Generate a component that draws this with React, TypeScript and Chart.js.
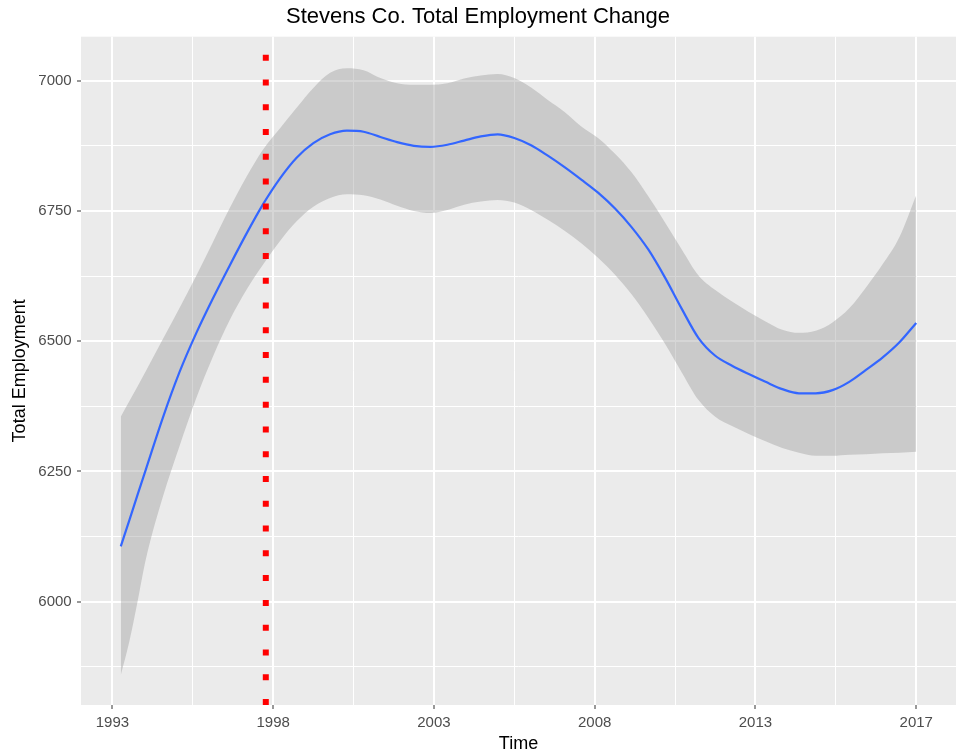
import React, { useEffect, useRef } from "react";
import { Chart, registerables } from "chart.js";

Chart.register(...registerables);

const TITLE = "Stevens Co. Total Employment Change";
const X_TITLE = "Time";
const Y_TITLE = "Total Employment";

const YEARS = [
  1993.25, 1993.5, 1993.75, 1994, 1994.5, 1995, 1995.5, 1996, 1996.5, 1997,
  1997.5, 1998, 1998.5, 1999, 1999.5, 2000, 2000.5, 2001, 2001.5, 2002,
  2002.5, 2003, 2003.5, 2004, 2004.5, 2005, 2005.5, 2006, 2006.5, 2007,
  2007.5, 2008, 2008.5, 2009, 2009.5, 2010, 2010.5, 2011, 2011.5, 2012,
  2012.5, 2013, 2013.5, 2014, 2014.5, 2015, 2015.5, 2016, 2016.5, 2017,
];

const FIT = [
  6106, 6155, 6205, 6254, 6352, 6440, 6515, 6582, 6645, 6706,
  6763, 6812, 6852, 6880, 6897, 6904, 6902, 6892, 6882, 6875,
  6873, 6877, 6885, 6893, 6897, 6890, 6876, 6856, 6834, 6810,
  6785, 6755, 6719, 6676, 6622, 6562, 6506, 6472, 6453, 6437,
  6422, 6408, 6400, 6400, 6406, 6422, 6445, 6469, 6498, 6535,
];

const UPPER = [
  6355, 6384, 6413, 6443, 6503, 6563, 6625, 6690, 6755, 6815,
  6868, 6908, 6948, 6986, 7015, 7024, 7020, 7005, 6995, 6992,
  6992, 6995, 7004, 7010, 7013, 7005, 6987, 6963, 6940, 6912,
  6890, 6860, 6824, 6778, 6728, 6676, 6626, 6598, 6576, 6556,
  6538, 6522, 6516, 6520, 6536, 6563, 6603, 6648, 6700, 6780,
];

const LOWER = [
  5859, 5922, 6000, 6082, 6200, 6298, 6390, 6470, 6540, 6598,
  6647, 6692, 6730, 6758, 6775, 6782, 6780, 6772, 6760, 6750,
  6746, 6752, 6762, 6768, 6771, 6766, 6752, 6733, 6712, 6688,
  6660, 6628, 6590, 6545, 6495, 6440, 6387, 6355, 6337, 6322,
  6308, 6295, 6286, 6280, 6280, 6282, 6283, 6285, 6286, 6288,
];

const VLINE_X = 1997.58;

const X_TICK_VALUES = [1993, 1997.8, 2002.6, 2007.4, 2012.2, 2017];
const X_TICK_LABELS = ["1993", "1998", "2003", "2008", "2013", "2017"];
const X_MINOR = [1995.4, 2000.2, 2005, 2009.8, 2014.6];
const X_MIN = 1992.0625;
const X_MAX = 2018.1875;

const Y_TICK_VALUES = [6000, 6250, 6500, 6750, 7000];
const Y_MINOR = [5875, 6125, 6375, 6625, 6875];
const Y_MIN = 5801.7;
const Y_MAX = 7084.4;

const near = (a: number, b: number) => Math.abs(a - b) < 1e-6;
const idxIn = (arr: number[], v: number) => arr.findIndex((a) => near(a, v));

const panelBg = {
  id: "panelBg",
  beforeDraw(chart: any) {
    const { ctx, chartArea } = chart;
    ctx.save();
    ctx.fillStyle = "#EBEBEB";
    ctx.fillRect(chartArea.left, chartArea.top, chartArea.right - chartArea.left, chartArea.bottom - chartArea.top);
    ctx.restore();
  },
};

export default function App() {
  const ref = useRef<HTMLCanvasElement | null>(null);

  useEffect(() => {
    if (!ref.current) return;
    Chart.defaults.font.family = "'Liberation Sans', Arial, sans-serif";
    const fitPts = YEARS.map((x, i) => ({ x, y: FIT[i] }));
    const upPts = YEARS.map((x, i) => ({ x, y: UPPER[i] }));
    const loPts = YEARS.map((x, i) => ({ x, y: LOWER[i] }));

    const chart = new Chart(ref.current, {
      type: "line",
      data: {
        datasets: [
          {
            label: "vline",
            data: [
              { x: VLINE_X, y: Y_MIN },
              { x: VLINE_X, y: Y_MAX },
            ],
            borderColor: "#FF0000",
            borderWidth: 6,
            borderDash: [6, 18.78],
            borderCapStyle: "butt",
            pointRadius: 0,
            fill: false,
            clip: 0,
          } as any,
          {
            label: "fit",
            data: fitPts,
            borderColor: "#3366FF",
            borderWidth: 2.2,
            pointRadius: 0,
            fill: false,
            cubicInterpolationMode: "monotone",
          },
          {
            label: "upper",
            data: upPts,
            borderWidth: 0,
            borderColor: "rgba(0,0,0,0)",
            backgroundColor: "rgba(153,153,153,0.4)",
            pointRadius: 0,
            fill: "+1",
            cubicInterpolationMode: "monotone",
          },
          {
            label: "lower",
            data: loPts,
            borderWidth: 0,
            borderColor: "rgba(0,0,0,0)",
            pointRadius: 0,
            fill: false,
            cubicInterpolationMode: "monotone",
          },
        ],
      },
      options: {
        responsive: false,
        animation: false,
        devicePixelRatio: 1,
        layout: { padding: 0 },
        plugins: {
          legend: { display: false },
          tooltip: { enabled: false },
          title: {
            display: true,
            text: TITLE,
            color: "#000000",
            font: { size: 22, weight: "normal" },
            padding: { top: 4.2, bottom: 6.1 },
          },
        },
        scales: {
          x: {
            type: "linear",
            min: X_MIN,
            max: X_MAX,
            afterBuildTicks: (scale: any) => {
              scale.ticks = [...X_TICK_VALUES, ...X_MINOR]
                .sort((a, b) => a - b)
                .map((v) => ({ value: v }));
            },
            afterFit: (scale: any) => {
              scale.height = 51;
            },
            ticks: {
              autoSkip: false,
              maxRotation: 0,
              color: "#4D4D4D",
              font: { size: 15 },
              padding: 5.1,
              callback: (v: any) => {
                const i = idxIn(X_TICK_VALUES, Number(v));
                return i >= 0 ? X_TICK_LABELS[i] : "";
              },
            },
            grid: {
              color: "#FFFFFF",
              lineWidth: (c: any) => (idxIn(X_TICK_VALUES, c.tick?.value) >= 0 ? 2 : 1),
              tickColor: (c: any) => (idxIn(X_TICK_VALUES, c.tick?.value) >= 0 ? "#333333" : "rgba(0,0,0,0)"),
              tickLength: 4,
              tickWidth: 1,
            },
            border: { display: false },
            title: {
              display: true,
              text: X_TITLE,
              color: "#000000",
              font: { size: 18 },
              padding: { top: 0, bottom: 0.7 },
            },
          },
          y: {
            type: "linear",
            min: Y_MIN,
            max: Y_MAX,
            afterBuildTicks: (scale: any) => {
              scale.ticks = [...Y_TICK_VALUES, ...Y_MINOR]
                .sort((a, b) => a - b)
                .map((v) => ({ value: v }));
            },
            afterFit: (scale: any) => {
              scale.width = 81;
            },
            ticks: {
              autoSkip: false,
              color: "#4D4D4D",
              font: { size: 15 },
              padding: 5.3,
              callback: (v: any) => {
                const i = idxIn(Y_TICK_VALUES, Number(v));
                return i >= 0 ? String(Y_TICK_VALUES[i]) : "";
              },
            },
            grid: {
              color: "#FFFFFF",
              lineWidth: (c: any) => (idxIn(Y_TICK_VALUES, c.tick?.value) >= 0 ? 2 : 1),
              tickColor: (c: any) => (idxIn(Y_TICK_VALUES, c.tick?.value) >= 0 ? "#333333" : "rgba(0,0,0,0)"),
              tickLength: 4,
              tickWidth: 1,
            },
            border: { display: false },
            title: {
              display: true,
              text: Y_TITLE,
              color: "#000000",
              font: { size: 18 },
              padding: { top: 9.7, bottom: 0 },
            },
          },
        },
      } as any,
      plugins: [panelBg],
    });
    return () => chart.destroy();
  }, []);

  return (
    <div style={{ position: "absolute", left: 0, top: 0, width: 956, height: 756, background: "#FFFFFF" }}>
      <canvas ref={ref} width={956} height={756} style={{ width: 956, height: 756, display: "block" }} />
    </div>
  );
}
